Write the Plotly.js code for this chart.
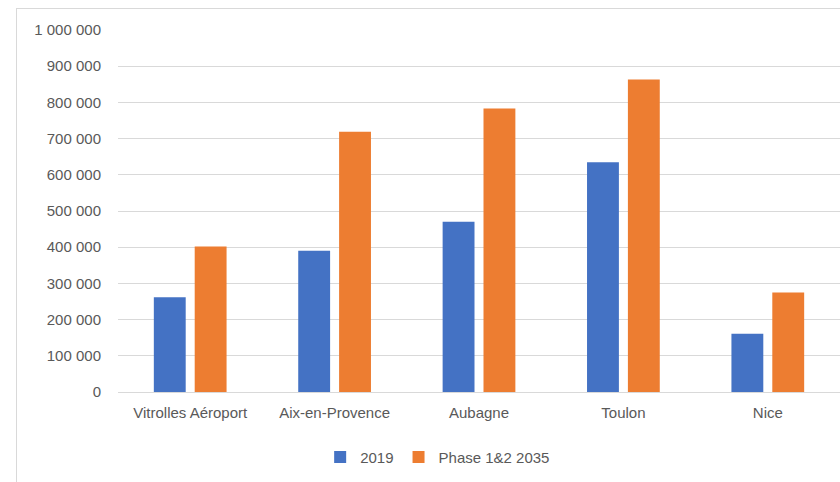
<!DOCTYPE html>
<html>
<head>
<meta charset="utf-8">
<script src="https://cdn.plot.ly/plotly-3.0.1.min.js"></script>
<style>
  body { margin: 0; padding: 0; background: #fff; }
  #wrap { position: relative; width: 840px; height: 482px; overflow: hidden; }
  #frame { position: absolute; left: 16px; top: 8px; width: 900px; height: 600px;
           border-left: 1px solid #D9D9D9; border-top: 1px solid #D9D9D9; pointer-events: none; }
  #chart { position: absolute; left: 0; top: 0; width: 840px; height: 482px; }
</style>
</head>
<body>
<div id="wrap">
  <div id="chart"></div>
  <div id="frame"></div>
</div>
<script>
const categories = ["Vitrolles Aéroport", "Aix-en-Provence", "Aubagne", "Toulon", "Nice"];
const series2019 = [262000, 390000, 470000, 635000, 161000];
const seriesPhase = [402000, 719000, 783000, 863000, 275000];
const seriesNames = ["2019", "Phase 1&2 2035"];
const tickValues = [0, 100000, 200000, 300000, 400000, 500000, 600000, 700000, 800000, 900000, 1000000];
const tickLabels = ["0", "100 000", "200 000", "300 000", "400 000", "500 000", "600 000", "700 000", "800 000", "900 000", "1 000 000"];

const font = { family: "Liberation Sans, Arial, sans-serif", size: 15, color: "#595959" };

const traces = [
  { type: "bar", name: seriesNames[0], x: categories, y: series2019,
    marker: { color: "#4472C4" }, hoverinfo: "skip" },
  { type: "bar", name: seriesNames[1], x: categories, y: seriesPhase,
    marker: { color: "#ED7D31" }, hoverinfo: "skip" }
];

const layout = {
  width: 840, height: 482,
  margin: { l: 118, r: 0, t: 30, b: 90 },
  paper_bgcolor: "rgba(0,0,0,0)",
  plot_bgcolor: "rgba(0,0,0,0)",
  font: font,
  barmode: "group",
  bargap: 0.434,
  bargroupgap: 0.22,
  showlegend: true,
  legend: { orientation: "h", x: 0.28, xanchor: "left", y: -0.18, yanchor: "middle",
            font: font, itemwidth: 30, traceorder: "normal" },
  xaxis: { type: "category", showgrid: false, showline: true, linecolor: "#D9D9D9", linewidth: 1,
           ticks: "", tickfont: font, ticklabelstandoff: 7, zeroline: false },
  yaxis: { range: [0, 1000000], tickvals: tickValues, ticktext: tickLabels,
           showgrid: true, gridcolor: "#D9D9D9", gridwidth: 1, zeroline: false,
           showline: false, ticks: "", tickfont: font, ticklabelstandoff: 16 }
};

Plotly.newPlot("chart", traces, layout, { staticPlot: true, displayModeBar: false });
</script>
</body>
</html>
